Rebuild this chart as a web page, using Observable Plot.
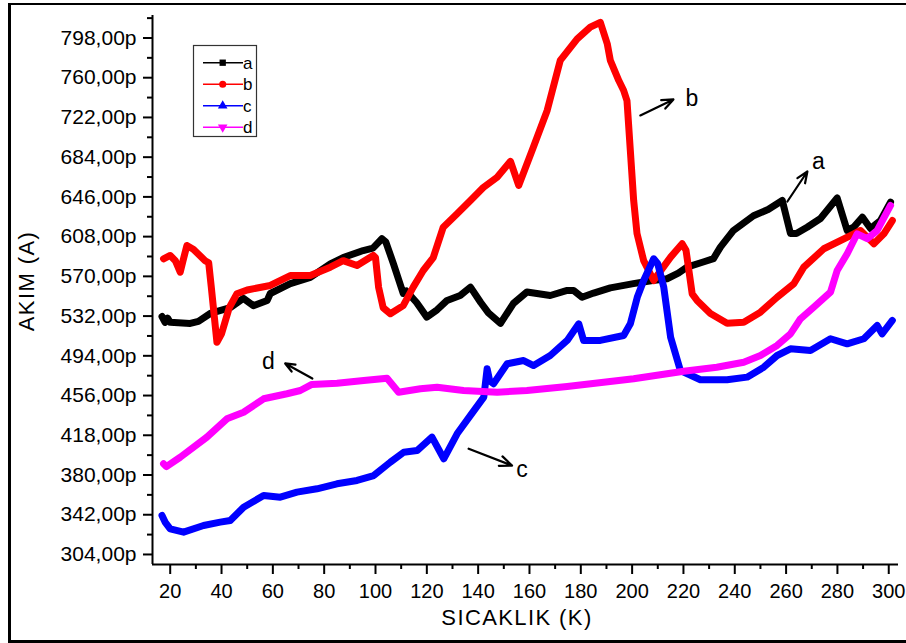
<!DOCTYPE html>
<html>
<head>
<meta charset="utf-8">
<script src="https://cdn.jsdelivr.net/npm/d3@7"></script>
<script src="https://cdn.jsdelivr.net/npm/@observablehq/plot@0.6"></script>
<style>
  html, body { margin: 0; padding: 0; background: #fff; }
  #wrap { position: relative; width: 906px; height: 643px; overflow: hidden; font-family: "Liberation Sans", Arial, sans-serif; }
  #frame { position: absolute; left: 8px; top: 3px; width: 898px; height: 640px; box-sizing: border-box;
           border-left: 3px solid #000; border-top: 2.5px solid #000; border-bottom: 3px solid #000; pointer-events: none; }
  .ttl { position: absolute; color: #000; font-size: 22px; letter-spacing: 1.4px; white-space: nowrap; line-height: 1; }
  #xt { left: 517px; top: 607px; transform: translateX(-50%); }
  #yt { left: 27px; top: 281px; transform: translate(-50%, -50%) rotate(-90deg); }
  #overlay { position: absolute; left: 0; top: 0; pointer-events: none; }
</style>
</head>
<body>
<div id="wrap">
  <div id="chart"></div>
  <div id="frame"></div>
  <div class="ttl" id="xt">SICAKLIK (K)</div>
  <div class="ttl" id="yt">AKIM (A)</div>
  <svg id="overlay" width="906" height="643"></svg>
</div>
<script>
// ---- data ----
const seriesNames = ["a", "b", "c", "d"];
const seriesColors = ["#000000", "#ff0000", "#0000ff", "#ff00ff"];

const aT = [16.8,18,19,20,27.8,31,35.6,43.4,48.5,52.4,57.8,59,66.8,74.6,82.4,87.4,95.2,99,102.5,104,107,110.8,112,116,120,124,127.9,133,137,141,144,148.7,153.7,159,168.1,174.7,177.2,180.5,185,191.5,200.5,208,213.6,218,221.4,228,231.7,234.4,239.5,247.3,253,258.5,261.7,264,268.2,273.4,279.9,283.8,286.3,289.7,292.9,296.8,300.7];
const aI = [531.6,526,530,526,525,527,534.5,540,549,542,547,553.6,563,569,582,588,594.7,597,606,603,582,553.6,556,545,531,538,547,551.7,559.7,545,535,525,544,555,551.7,556.5,556.5,550,554,559,563,566,567.7,573,578.8,584,587,598,613.9,628,634,642.6,611,611,617,625.3,645,613.9,617,626.6,615.8,623.4,641];

const bT = [17.4,20,22,23.9,25,26.5,29,33.6,35,36,38.2,40,43,46,50,59,66.8,74.6,82.4,87.4,92.8,99.1,100,101.2,103,105.8,110.8,114.7,118.6,122.5,126.4,131.8,137,142,147.4,152.6,155.8,161.5,166.9,172,178.6,183.7,187.6,190.3,191.5,194.8,196.7,198,199.3,200.6,201.9,204.5,208.4,211,215,219.5,221,223.4,225.3,230.5,237,243.5,250,256.5,263,266.9,274.7,285.1,289,294.2,298.1,301.4];
const bI = [586.8,590,585,574,585,599.5,596,585,583,560,507,515,540,553.3,557,561.3,570.8,570.8,578.8,585,580.4,590,588,559.6,540,534.2,542,559.7,575.6,588,617,629.8,642.6,655,664.8,680,657,693.5,728.7,776.5,797.2,808.3,813,792.5,776.5,757.3,747.8,738,690.4,642.6,611,585,566,575,588.4,601.2,595,553.3,547,534.5,525.2,526.2,535.7,550,562.9,578.8,596.4,609,613.9,601.2,610.7,623.4];

const cT = [16.8,18,20,25.2,33,39.5,43.4,48.6,56.4,62.9,69.4,77.2,85,92.8,99.3,105.8,111,116.2,122,126.6,131.8,137,142.2,143.5,144.5,146,151.3,157.7,161.6,168.1,174.7,179.2,181.1,187.6,196.7,199.3,202,204.5,208.4,210,212.3,215,218.8,226.6,237,244.8,251.3,256.5,261.7,269.5,277.3,283.8,290.3,295.5,297.4,301.4];
const cI = [341.3,335,328.5,325.3,331.7,334.9,336.5,349.2,360.4,358.8,363.6,366.8,371.6,374.8,379.5,392.3,401.8,403.4,416.2,395.5,419.4,437,454.5,481.6,470,467.3,486.4,489.5,484.7,494.3,508.7,524.6,508.7,508.7,513.4,524.6,550,566,586.8,582,560,511.8,480,471.1,471.1,473.6,483.1,494.3,500.7,499.1,510.3,505.5,510.3,523,515,527.8];

const dT = [17.4,18.5,23.9,34.3,42.1,48.6,56.4,65.5,70.7,75.2,85,95.4,104.5,109,117.5,124,134.3,147.4,159,174.7,200.6,220.1,233,243.5,250,256.5,261.7,265.6,270.8,277.3,279.9,283.8,287.7,291.6,295.5,300.7];
const dI = [390.7,388,397,416.2,433.7,440,452.9,457.7,460.8,466.6,467.8,470.4,472.6,459.2,462.5,464,460.8,459.2,460.8,464.7,472,479.3,483.1,487.9,494.3,503.9,515,529.4,540.5,554.9,575.6,591.6,610.7,606,613.9,637.8];

const xTicks = [20,40,60,80,100,120,140,160,180,200,220,240,260,280,300];
const xMinor = [30,50,70,90,110,130,150,170,190,210,230,250,270,290];
const yTicks = [304,342,380,418,456,494,532,570,608,646,684,722,760,798];
const yMinor = [323,361,399,437,475,513,551,589,627,665,703,741,779,817];
const xDomain = [13.1, 303.8];
const yDomain = [294.4, 819.5];

// annotation arrows (data units) and their labels
const annoName = ["b", "a", "d", "c"];
const annoFromT = [203.2, 260.5, 75.4, 136.3];
const annoFromI = [723.9, 641.6, 472.3, 405.1];
const annoToT = [216.1, 268.3, 64.8, 153.2];
const annoToI = [739.2, 670.3, 486.7, 389.1];
const labelT = [223.3, 272.6, 58.3, 157.1];
const labelI = [732.5, 672.9, 481.6, 377.9];

// ---- build tables ----
const pts = [];
[[aT, aI], [bT, bI], [cT, cI], [dT, dI]].forEach(([T, I], k) => {
  T.forEach((t, i) => pts.push({s: seriesNames[k], t, i: I[i]}));
});
const annos = annoName.map((n, k) => ({n, x1: annoFromT[k], y1: annoFromI[k], x2: annoToT[k], y2: annoToI[k], lx: labelT[k], ly: labelI[k]}));
const fmt = d => d.toFixed(2).replace(".", ",") + "p";

const chart = Plot.plot({
  width: 906,
  height: 643,
  marginLeft: 152,
  marginRight: 8,
  marginTop: 15,
  marginBottom: 79,
  x: {domain: xDomain, label: null},
  y: {domain: yDomain, label: null},
  color: {domain: seriesNames, range: seriesColors},
  style: {fontFamily: "'Liberation Sans', Arial, sans-serif", fontSize: "20px", color: "#000", background: "transparent", overflow: "visible"},
  marks: [
    Plot.axisY({ticks: yTicks, tickSize: 9, tickPadding: 7, tickFormat: fmt, fontSize: 21, strokeWidth: 2, label: null}),
    Plot.axisY({ticks: yMinor, tickSize: 5, tickFormat: () => "", strokeWidth: 2, label: null}),
    Plot.axisX({ticks: xTicks, tickSize: 10, tickPadding: 9, tickFormat: d => String(d), fontSize: 20, strokeWidth: 2, label: null}),
    Plot.axisX({ticks: xMinor, tickSize: 5, tickFormat: () => "", strokeWidth: 2, label: null}),
    Plot.ruleX([xDomain[0]], {stroke: "#000", strokeWidth: 2}),
    Plot.ruleY([yDomain[0]], {stroke: "#000", strokeWidth: 2}),
    Plot.line(pts, {x: "t", y: "i", z: "s", stroke: "s", strokeWidth: 7, strokeLinejoin: "round", strokeLinecap: "round"}),
    Plot.arrow(annos, {x1: "x1", y1: "y1", x2: "x2", y2: "y2", stroke: "#000", strokeWidth: 2.2, headLength: 9, headAngle: 45}),
    Plot.text(annos, {x: "lx", y: "ly", text: "n", fontSize: 23, fill: "#000", textAnchor: "middle", lineAnchor: "bottom"})
  ]
});
document.getElementById("chart").appendChild(chart);

// ---- legend (inside plot area, top-left) ----
const ov = d3.select("#overlay");
const lg = ov.append("g").attr("transform", "translate(193.5,45.5)");
lg.append("rect").attr("width", 63).attr("height", 91).attr("fill", "#fff").attr("stroke", "#333").attr("stroke-width", 1.2);
const symbols = [d3.symbolSquare, d3.symbolCircle, d3.symbolTriangle, d3.symbolTriangle];
seriesNames.forEach((n, k) => {
  const y = 17.2 + k * 21.5;
  const g = lg.append("g").attr("transform", `translate(0,${y})`);
  g.append("line").attr("x1", 9.5).attr("x2", 49.5).attr("y1", 0).attr("y2", 0).attr("stroke", seriesColors[k]).attr("stroke-width", 1.6);
  g.append("path").attr("d", d3.symbol(symbols[k], 40)())
    .attr("transform", `translate(29.2,0)${k === 3 ? " rotate(180)" : ""}`)
    .attr("fill", seriesColors[k]);
  g.append("text").attr("x", 49.5).attr("y", 6).attr("font-size", 17).attr("font-family", "'Liberation Sans', Arial, sans-serif").text(n);
});
</script>
</body>
</html>
